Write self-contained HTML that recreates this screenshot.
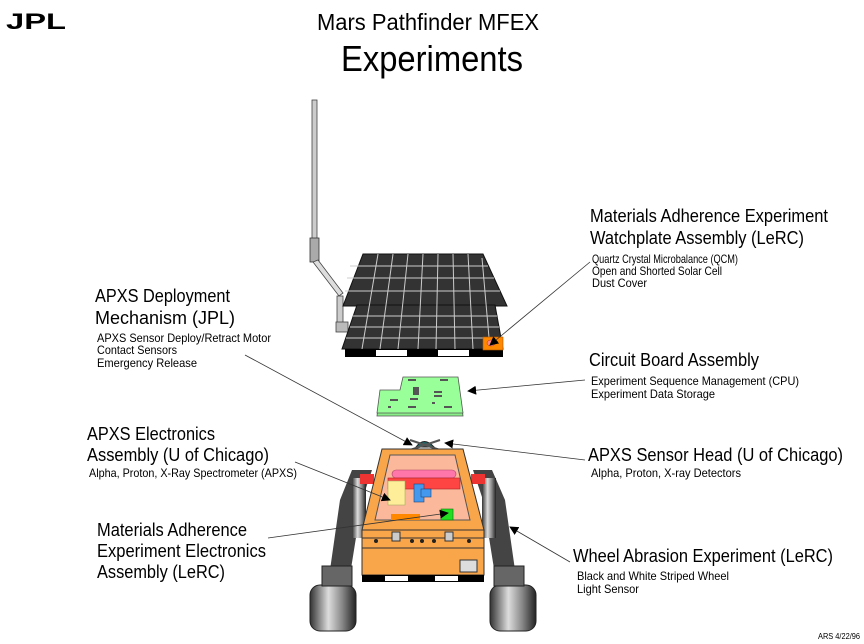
<!DOCTYPE html>
<html><head><meta charset="utf-8"><style>
html,body{margin:0;padding:0;background:#fff;}
svg{display:block;}
text{font-family:"Liberation Sans",sans-serif;fill:#000;}
.h{font-size:18px;}
.s{font-size:12px;}
</style></head><body>
<svg width="864" height="644" viewBox="0 0 864 644" xmlns="http://www.w3.org/2000/svg">
<defs>
<marker id="ar" viewBox="0 0 10 10" refX="9" refY="5" markerWidth="9" markerHeight="9" orient="auto" markerUnits="userSpaceOnUse">
<path d="M0,0 L10,5 L0,10 z" fill="#000"/></marker>
<linearGradient id="wg" x1="0" x2="1"><stop offset="0" stop-color="#333"/><stop offset="0.4" stop-color="#ddd"/><stop offset="0.7" stop-color="#888"/><stop offset="1" stop-color="#222"/></linearGradient>
</defs>
<!-- JPL logo -->
<text x="6" y="29" style="font-size:22px;font-weight:bold" textLength="60" lengthAdjust="spacingAndGlyphs">JPL</text>
<!-- Title -->
<text x="428" y="30" text-anchor="middle" style="font-size:23px" textLength="222" lengthAdjust="spacingAndGlyphs">Mars Pathfinder MFEX</text>
<text x="432" y="71" text-anchor="middle" style="font-size:36px" textLength="182" lengthAdjust="spacingAndGlyphs">Experiments</text>

<!-- mast -->
<rect x="312" y="100" width="5" height="140" fill="#ccc" stroke="#444" stroke-width="0.8"/>
<rect x="310" y="238" width="9" height="24" fill="#aaa" stroke="#333" stroke-width="0.8"/>
<path d="M313,262 L339,296 L343,293 L318,260 z" fill="#ddd" stroke="#444" stroke-width="0.8"/>
<rect x="337" y="296" width="6" height="32" fill="#ccc" stroke="#444" stroke-width="0.8"/>
<rect x="336" y="322" width="12" height="10" fill="#bbb" stroke="#444" stroke-width="0.8"/>

<!-- solar panel back -->
<polygon points="363,254 483,254 507,306 343,306" fill="#333" stroke="#111"/>
<!-- solar panel front -->
<polygon points="357,305 495,305 503,349 342,349" fill="#333" stroke="#111"/>
<g stroke="#ccc" stroke-width="1">
<line x1="350" y1="266" x2="488" y2="266"/><line x1="347" y1="278" x2="494" y2="278"/><line x1="345" y1="291" x2="500" y2="291"/>
<line x1="353" y1="316" x2="497" y2="316"/><line x1="350" y1="327" x2="499" y2="327"/><line x1="346" y1="338" x2="501" y2="338"/>
<line x1="378" y1="254" x2="362" y2="349"/><line x1="393" y1="254" x2="380" y2="349"/><line x1="408" y1="254" x2="398" y2="349"/>
<line x1="423" y1="254" x2="418" y2="349"/><line x1="438" y1="254" x2="436" y2="349"/><line x1="453" y1="254" x2="455" y2="349"/>
<line x1="468" y1="254" x2="473" y2="349"/><line x1="482" y1="258" x2="490" y2="349"/>
</g>
<rect x="345" y="349" width="158" height="8" fill="#000"/>
<rect x="376" y="350" width="31" height="6" fill="#fff"/><rect x="438" y="350" width="31" height="6" fill="#fff"/>
<rect x="483" y="337" width="20" height="13" fill="#f80" stroke="#a50" stroke-width="0.6"/>
<ellipse cx="491" cy="343" rx="4" ry="3" fill="#f88" stroke="#a33" stroke-width="0.5"/>

<!-- circuit board -->
<polygon points="380,393 402,393 403,380 458,380 463,416 377,416" fill="#8e8" stroke="#555" stroke-width="0.8"/>
<polygon points="380,390 400,390 403,377 458,377 463,413 377,413" fill="#9f9" stroke="#555" stroke-width="0.8"/>
<g fill="#555"><rect x="408" y="379" width="8" height="2"/><rect x="440" y="379" width="8" height="2"/><rect x="413" y="387" width="6" height="8"/><rect x="434" y="391" width="8" height="2"/><rect x="434" y="395" width="8" height="2"/><rect x="390" y="399" width="8" height="2"/><rect x="410" y="398" width="8" height="2"/><rect x="408" y="406" width="8" height="2"/><rect x="444" y="406" width="8" height="2"/><rect x="388" y="406" width="3" height="2"/><rect x="432" y="402" width="3" height="2"/></g>

<!-- sensor head -->
<path d="M416,447 Q424,436 434,447 z" fill="#266" stroke="#222"/>
<line x1="410" y1="440" x2="440" y2="450" stroke="#555" stroke-width="2"/>
<line x1="440" y1="440" x2="410" y2="450" stroke="#555" stroke-width="2"/>

<!-- rover wheels/legs -->
<path d="M372,470 L352,470 L340,500 L330,570 L350,575 L362,500 z" fill="#444"/>
<path d="M473,470 L492,470 L505,500 L515,570 L495,575 L483,500 z" fill="#444"/>
<rect x="352" y="478" width="14" height="60" fill="url(#wg)"/>
<rect x="482" y="478" width="14" height="60" fill="url(#wg)"/>
<rect x="310" y="585" width="46" height="46" rx="10" fill="url(#wg)" stroke="#222"/>
<rect x="490" y="585" width="46" height="46" rx="10" fill="url(#wg)" stroke="#222"/>
<rect x="322" y="566" width="30" height="20" fill="#666" stroke="#222"/>
<rect x="494" y="566" width="30" height="20" fill="#666" stroke="#222"/>
<rect x="360" y="474" width="14" height="10" fill="#e33"/>
<rect x="471" y="474" width="14" height="10" fill="#e33"/>

<!-- rover body -->
<polygon points="382,449 463,449 484,530 362,530" fill="#f9a64a" stroke="#333"/>
<polygon points="390,455 455,455 470,520 375,520" fill="#fbb89a" stroke="#555"/>
<rect x="392" y="470" width="64" height="8" rx="4" fill="#f7a" stroke="#a46" stroke-width="0.6"/>
<rect x="388" y="478" width="72" height="11" fill="#f44" stroke="#a22" stroke-width="0.6"/>
<rect x="388" y="481" width="17" height="24" fill="#fe9" stroke="#aa6" stroke-width="0.6"/>
<rect x="414" y="484" width="10" height="18" fill="#49e" stroke="#247" stroke-width="0.6"/>
<rect x="421" y="489" width="10" height="8" fill="#49e" stroke="#247" stroke-width="0.6"/>
<rect x="391" y="514" width="29" height="6" fill="#f80"/>
<rect x="441" y="509" width="12" height="11" fill="#2d2" stroke="#171" stroke-width="0.6"/>
<rect x="362" y="530" width="122" height="45" fill="#f9a64a" stroke="#333"/>
<line x1="362" y1="538" x2="484" y2="538" stroke="#333"/>
<line x1="362" y1="548" x2="484" y2="548" stroke="#333"/>
<rect x="392" y="532" width="8" height="9" fill="#ccc" stroke="#333"/>
<rect x="445" y="532" width="8" height="9" fill="#ccc" stroke="#333"/>
<g fill="#222"><circle cx="376" cy="541" r="2"/><circle cx="412" cy="541" r="2"/><circle cx="422" cy="541" r="2"/><circle cx="434" cy="541" r="2"/><circle cx="469" cy="541" r="2"/></g>
<rect x="460" y="560" width="17" height="12" fill="#ddd" stroke="#333"/>
<rect x="362" y="575" width="122" height="7" fill="#000"/>
<rect x="385" y="576" width="23" height="5" fill="#fff"/><rect x="435" y="576" width="23" height="5" fill="#fff"/>

<!-- arrows -->
<g stroke="#333" stroke-width="0.8" marker-end="url(#ar)">
<line x1="590" y1="262" x2="490" y2="345"/>
<line x1="245" y1="355" x2="412" y2="445"/>
<line x1="585" y1="380" x2="468" y2="391"/>
<line x1="585" y1="460" x2="445" y2="443"/>
<line x1="295" y1="462" x2="390" y2="500"/>
<line x1="268" y1="538" x2="448" y2="513"/>
<line x1="570" y1="562" x2="510" y2="527"/>
</g>

<!-- labels -->
<text class="h" x="590" y="222" textLength="238" lengthAdjust="spacingAndGlyphs">Materials Adherence Experiment</text>
<text class="h" x="590" y="244" textLength="214" lengthAdjust="spacingAndGlyphs">Watchplate Assembly (LeRC)</text>
<text class="s" x="592" y="263" textLength="146" lengthAdjust="spacingAndGlyphs">Quartz Crystal Microbalance (QCM)</text>
<text class="s" x="592" y="275" textLength="130" lengthAdjust="spacingAndGlyphs">Open and Shorted Solar Cell</text>
<text class="s" x="592" y="287" textLength="55" lengthAdjust="spacingAndGlyphs">Dust Cover</text>

<text class="h" x="95" y="302" textLength="135" lengthAdjust="spacingAndGlyphs">APXS Deployment</text>
<text class="h" x="95" y="324" textLength="140" lengthAdjust="spacingAndGlyphs">Mechanism (JPL)</text>
<text class="s" x="97" y="342" textLength="174" lengthAdjust="spacingAndGlyphs">APXS Sensor Deploy/Retract Motor</text>
<text class="s" x="97" y="354" textLength="80" lengthAdjust="spacingAndGlyphs">Contact Sensors</text>
<text class="s" x="97" y="367" textLength="100" lengthAdjust="spacingAndGlyphs">Emergency Release</text>

<text class="h" x="589" y="366" textLength="170" lengthAdjust="spacingAndGlyphs">Circuit Board Assembly</text>
<text class="s" x="591" y="385" textLength="208" lengthAdjust="spacingAndGlyphs">Experiment Sequence Management (CPU)</text>
<text class="s" x="591" y="398" textLength="124" lengthAdjust="spacingAndGlyphs">Experiment Data Storage</text>

<text class="h" x="87" y="440" textLength="128" lengthAdjust="spacingAndGlyphs">APXS Electronics</text>
<text class="h" x="87" y="461" textLength="182" lengthAdjust="spacingAndGlyphs">Assembly (U of Chicago)</text>
<text class="s" x="89" y="477" textLength="208" lengthAdjust="spacingAndGlyphs">Alpha, Proton, X-Ray Spectrometer (APXS)</text>

<text class="h" x="588" y="461" textLength="255" lengthAdjust="spacingAndGlyphs">APXS Sensor Head (U of Chicago)</text>
<text class="s" x="591" y="477" textLength="150" lengthAdjust="spacingAndGlyphs">Alpha, Proton, X-ray Detectors</text>

<text class="h" x="97" y="536" textLength="150" lengthAdjust="spacingAndGlyphs">Materials Adherence</text>
<text class="h" x="97" y="557" textLength="169" lengthAdjust="spacingAndGlyphs">Experiment Electronics</text>
<text class="h" x="97" y="578" textLength="128" lengthAdjust="spacingAndGlyphs">Assembly (LeRC)</text>

<text class="h" x="573" y="562" textLength="260" lengthAdjust="spacingAndGlyphs">Wheel Abrasion Experiment (LeRC)</text>
<text class="s" x="577" y="580" textLength="152" lengthAdjust="spacingAndGlyphs">Black and White Striped Wheel</text>
<text class="s" x="577" y="593" textLength="62" lengthAdjust="spacingAndGlyphs">Light Sensor</text>

<text x="818" y="639" style="font-size:8px" textLength="42" lengthAdjust="spacingAndGlyphs">ARS 4/22/96</text>
</svg>
</body></html>
